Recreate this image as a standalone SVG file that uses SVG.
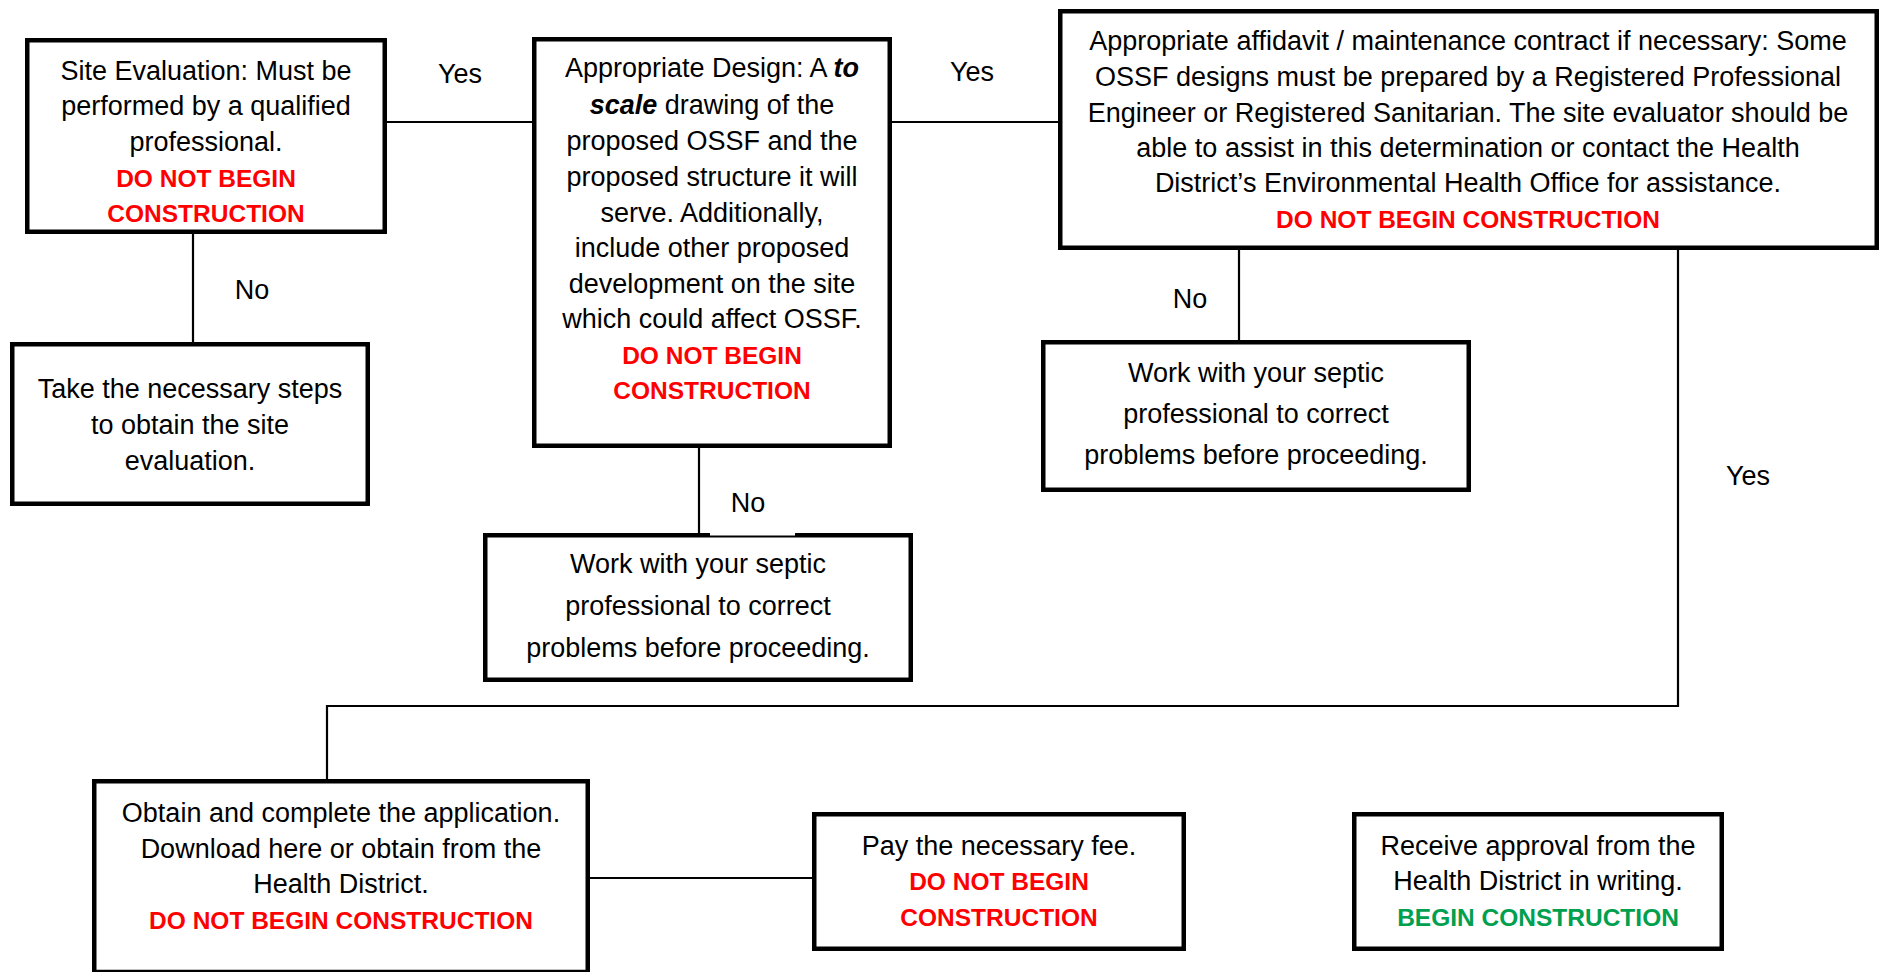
<svg xmlns="http://www.w3.org/2000/svg" width="1881" height="972" viewBox="0 0 1881 972">
<style>
.box{fill:#fff;stroke:#000;stroke-width:4.5}
.conn{fill:none;stroke:#000;stroke-width:2.2}
.t{font-family:"Liberation Sans",Arial,sans-serif;font-size:27px;fill:#000;text-anchor:middle}
.r{font-family:"Liberation Sans",Arial,sans-serif;font-size:24.5px;font-weight:bold;fill:#ff0000;text-anchor:middle}
.g{font-family:"Liberation Sans",Arial,sans-serif;font-size:24.5px;font-weight:bold;fill:#00a04f;text-anchor:middle}
.bi{font-weight:bold;font-style:italic}
</style>
<rect width="1881" height="972" fill="#fff"/>
<g id="connectors">
<line class="conn" x1="387" y1="122" x2="532" y2="122"/>
<line class="conn" x1="892" y1="122" x2="1058" y2="122"/>
<line class="conn" x1="193" y1="234" x2="193" y2="342"/>
<line class="conn" x1="699" y1="448" x2="699" y2="533"/>
<line class="conn" x1="1239" y1="250" x2="1239" y2="340"/>
<path class="conn" d="M1678 250 V706 H327 V779"/>
<line class="conn" x1="590" y1="878" x2="812" y2="878"/>
</g>
<g id="labels">
<text class="t" x="460" y="83">Yes</text>
<text class="t" x="972" y="81">Yes</text>
<text class="t" x="252" y="299">No</text>
<text class="t" x="1190" y="308">No</text>
<text class="t" x="1748" y="485">Yes</text>
</g>
<g id="site-evaluation">
<rect class="box" x="27.25" y="40.25" width="357.5" height="191.5"/>
<text class="t" x="206" y="80">Site Evaluation: Must be</text>
<text class="t" x="206" y="115">performed by a qualified</text>
<text class="t" x="206" y="151">professional.</text>
<text class="r" x="206" y="187">DO NOT BEGIN</text>
<text class="r" x="206" y="222">CONSTRUCTION</text>
</g>
<g id="take-steps">
<rect class="box" x="12.25" y="344.25" width="355.5" height="159.5"/>
<text class="t" x="190" y="398">Take the necessary steps</text>
<text class="t" x="190" y="434">to obtain the site</text>
<text class="t" x="190" y="470">evaluation.</text>
</g>
<g id="appropriate-design">
<rect class="box" x="534.25" y="39.25" width="355.5" height="406.5"/>
<text class="t" x="712" y="77">Appropriate Design: A <tspan class="bi">to</tspan></text>
<text class="t" x="712" y="114"><tspan class="bi">scale</tspan> drawing of the</text>
<text class="t" x="712" y="150">proposed OSSF and the</text>
<text class="t" x="712" y="186">proposed structure it will</text>
<text class="t" x="712" y="222">serve. Additionally,</text>
<text class="t" x="712" y="257">include other proposed</text>
<text class="t" x="712" y="293">development on the site</text>
<text class="t" x="712" y="328">which could affect OSSF.</text>
<text class="r" x="712" y="364">DO NOT BEGIN</text>
<text class="r" x="712" y="399">CONSTRUCTION</text>
</g>
<g id="work-with-septic-1">
<rect class="box" x="485.25" y="535.25" width="425.5" height="144.5"/>
<rect x="710" y="520" width="85" height="15.5" fill="#fff"/>
<text class="t" x="748" y="512">No</text>
<text class="t" x="698" y="573">Work with your septic</text>
<text class="t" x="698" y="615">professional to correct</text>
<text class="t" x="698" y="657">problems before proceeding.</text>
</g>
<g id="affidavit">
<rect class="box" x="1060.25" y="11.25" width="816.5" height="236.5"/>
<text class="t" x="1468" y="50">Appropriate affidavit / maintenance contract if necessary: Some</text>
<text class="t" x="1468" y="86">OSSF designs must be prepared by a Registered Professional</text>
<text class="t" x="1468" y="122">Engineer or Registered Sanitarian. The site evaluator should be</text>
<text class="t" x="1468" y="157">able to assist in this determination or contact the Health</text>
<text class="t" x="1468" y="192">District’s Environmental Health Office for assistance.</text>
<text class="r" x="1468" y="228">DO NOT BEGIN CONSTRUCTION</text>
</g>
<g id="work-with-septic-2">
<rect class="box" x="1043.25" y="342.25" width="425.5" height="147.5"/>
<text class="t" x="1256" y="382">Work with your septic</text>
<text class="t" x="1256" y="423">professional to correct</text>
<text class="t" x="1256" y="464">problems before proceeding.</text>
</g>
<g id="obtain-application">
<rect class="box" x="94.25" y="781.25" width="493.5" height="190.75"/>
<text class="t" x="341" y="822">Obtain and complete the application.</text>
<text class="t" x="341" y="858">Download here or obtain from the</text>
<text class="t" x="341" y="893">Health District.</text>
<text class="r" x="341" y="929">DO NOT BEGIN CONSTRUCTION</text>
</g>
<g id="pay-fee">
<rect class="box" x="814.25" y="814.25" width="369.5" height="134.5"/>
<text class="t" x="999" y="855">Pay the necessary fee.</text>
<text class="r" x="999" y="890">DO NOT BEGIN</text>
<text class="r" x="999" y="926">CONSTRUCTION</text>
</g>
<g id="receive-approval">
<rect class="box" x="1354.25" y="814.25" width="367.5" height="134.5"/>
<text class="t" x="1538" y="855">Receive approval from the</text>
<text class="t" x="1538" y="890">Health District in writing.</text>
<text class="g" x="1538" y="926">BEGIN CONSTRUCTION</text>
</g>
</svg>
